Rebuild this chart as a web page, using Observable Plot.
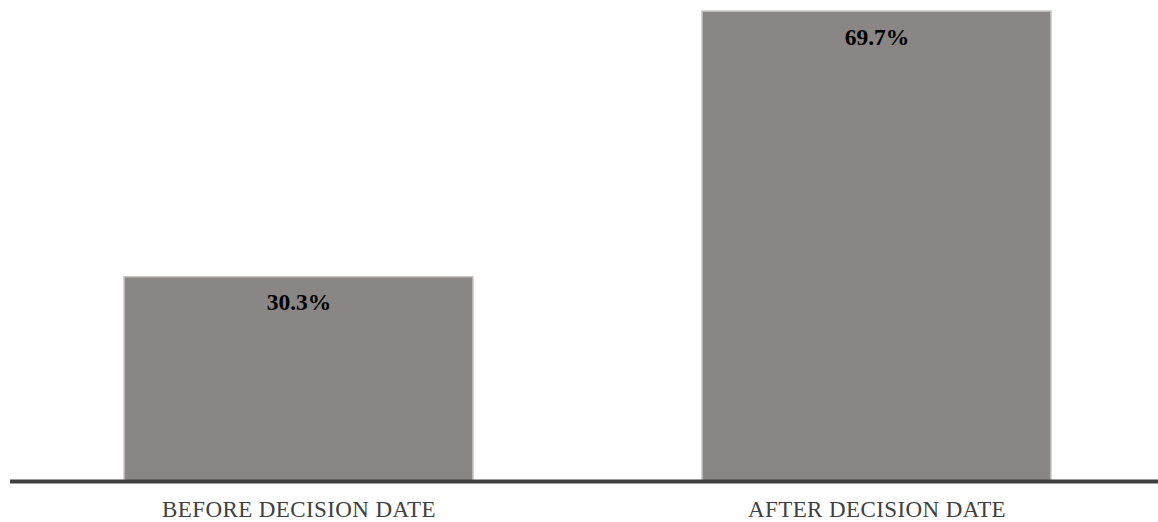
<!DOCTYPE html>
<html>
<head>
<meta charset="utf-8">
<script src="https://cdn.jsdelivr.net/npm/d3@7"></script>
<script src="https://cdn.jsdelivr.net/npm/@observablehq/plot@0.6"></script>
<style>
  html, body { margin: 0; padding: 0; background: #fff; }
  #chart svg { display: block; }
  #chart g[aria-label="x-axis tick label"] text { letter-spacing: 0.4px; }
</style>
</head>
<body>
<div id="chart"></div>
<script>
const categories = ["BEFORE DECISION DATE", "AFTER DECISION DATE"];
const values = [30.3, 69.7];
const valueLabels = ["30.3%", "69.7%"];

const data = categories.map((c, i) => ({category: c, value: values[i], label: valueLabels[i]}));

const chart = Plot.plot({
  width: 1158,
  height: 522,
  marginLeft: 10,
  marginRight: 0,
  marginTop: 9,
  marginBottom: 41,
  style: {fontFamily: "'Liberation Serif', 'Times New Roman', serif", background: "#fff"},
  x: {domain: categories, range: [17, 1158], paddingInner: 0.396, paddingOuter: 0.185, label: null},
  y: {domain: [0, 70], axis: null},
  marks: [
    Plot.barY(data, {x: "category", y: "value", fill: "#8a8685", stroke: "#c8c6c5", strokeWidth: 1.5}),
    Plot.text(data, {x: "category", y: "value", text: "label", dy: 25.5, fontSize: 23.5, fontWeight: "bold", fill: "#000"}),
    Plot.ruleY([0], {stroke: "#404040", strokeWidth: 4}),
    Plot.axisX({tickSize: 0, tickPadding: 19, fontSize: 23, color: "#404040", label: null, fill: "#404040"})
  ]
});
document.getElementById("chart").appendChild(chart);
</script>
</body>
</html>
